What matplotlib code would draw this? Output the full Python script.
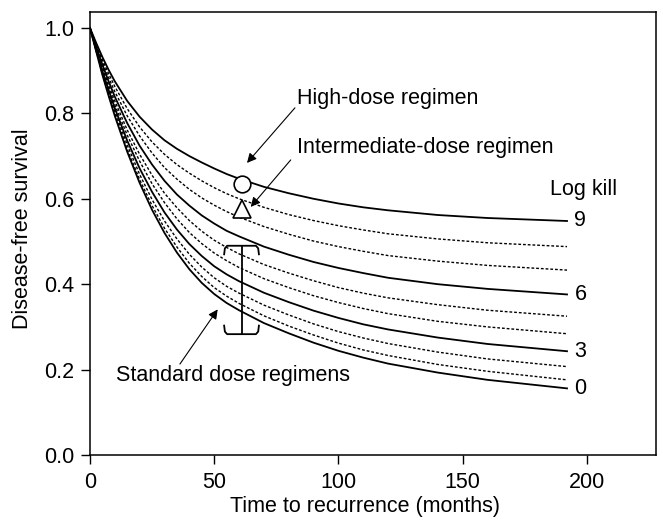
import numpy as np
import matplotlib
matplotlib.use("Agg")
import matplotlib.pyplot as plt

plt.rcParams['font.family'] = ['Liberation Sans', 'DejaVu Sans']

# months
months = [0, 2.5, 5, 7.5, 10, 15, 20, 25, 30, 35, 40, 45, 50, 55, 60,
          70, 80, 90, 100, 110, 120, 140, 160, 192]

# disease-free survival per log kill
kill_0 = [1.0, .945, .890, .841, .794, .710, .637, .574, .520, .474, .435, .403, .377, .356, .339,
          .309, .285, .263, .244, .228, .214, .193, .176, .156]
kill_1 = [1.0, .946, .892, .844, .798, .716, .645, .584, .531, .487, .449, .418, .392, .372, .355,
          .326, .302, .281, .262, .246, .233, .212, .196, .176]
kill_2 = [1.0, .948, .896, .849, .805, .726, .657, .598, .548, .506, .470, .440, .415, .395, .379,
          .351, .328, .307, .289, .274, .261, .241, .225, .207]
kill_3 = [1.0, .949, .899, .855, .812, .736, .671, .616, .568, .528, .494, .466, .442, .423, .407,
          .380, .358, .338, .321, .306, .294, .275, .260, .243]
kill_4 = [1.0, .952, .904, .861, .820, .749, .688, .635, .591, .553, .521, .495, .473, .455, .439,
          .413, .392, .373, .357, .343, .331, .313, .300, .284]
kill_5 = [1.0, .954, .908, .867, .829, .761, .704, .655, .613, .579, .549, .524, .503, .486, .471,
          .446, .426, .408, .392, .379, .368, .352, .339, .325]
kill_6 = [1.0, .956, .914, .875, .839, .777, .724, .680, .642, .610, .584, .561, .542, .525, .512,
          .488, .469, .452, .438, .426, .415, .400, .389, .376]
kill_7 = [1.0, .959, .920, .884, .851, .794, .747, .707, .673, .646, .622, .602, .585, .570, .557,
          .535, .517, .501, .488, .477, .467, .454, .444, .433]
kill_8 = [1.0, .962, .926, .893, .863, .811, .768, .733, .704, .680, .660, .642, .626, .612, .600,
          .580, .563, .549, .537, .527, .518, .506, .497, .488]
kill_9 = [1.0, .965, .932, .902, .875, .829, .792, .762, .737, .717, .700, .685, .671, .658, .647,
          .628, .613, .600, .589, .580, .573, .562, .555, .548]
curves = [kill_0, kill_1, kill_2, kill_3, kill_4, kill_5, kill_6, kill_7, kill_8, kill_9]
labelled = {0: '0', 3: '3', 6: '6', 9: '9'}

# regimen markers
high_dose = (61, 0.635)
inter_dose = (61, 0.576)
# standard dose bracket
std_t, std_lo, std_hi = 61, 0.283, 0.490

FS = 15.5

fig = plt.figure(figsize=(6.63, 5.2), dpi=100)
ax = fig.add_axes([0.1357, 0.125, 0.9894 - 0.1357, 0.977 - 0.125])

for k, vals in enumerate(curves):
    if k in labelled:
        ax.plot(months, vals, color='black', lw=1.3, solid_joinstyle='round')
        ax.text(195, vals[-1], labelled[k], fontsize=FS, va='center', ha='left')
    else:
        ax.plot(months, vals, color='black', lw=1.0, linestyle=(0, (2, 1.4)))

ax.plot(*high_dose, marker='o', ms=12, mfc='white', mec='black', mew=1.2)
ax.plot(*inter_dose, marker='^', ms=12.5, mfc='white', mec='black', mew=1.2)

# bracket (I shape with hooked ends)
hw, hk = 7.0, 0.02
ax.plot([std_t, std_t], [std_lo, std_hi], color='black', lw=1.3)
bx = np.array([-hw, -hw + 0.3, -hw + 1.2, hw - 1.2, hw - 0.3, hw]) + std_t
top_y = np.array([-hk, -hk * 0.3, 0, 0, -hk * 0.3, -hk]) + std_hi
bot_y = np.array([hk, hk * 0.3, 0, 0, hk * 0.3, hk]) + std_lo
ax.plot(bx, top_y, color='black', lw=1.3)
ax.plot(bx, bot_y, color='black', lw=1.3)

arrow = dict(arrowstyle='-|>', color='black', lw=0.8, mutation_scale=14, shrinkA=0, shrinkB=0)
ax.annotate('', xy=(63.2, 0.684), xytext=(82.5, 0.813), arrowprops=arrow)
ax.text(83.5, 0.836, 'High-dose regimen', fontsize=FS, va='center', ha='left')
ax.annotate('', xy=(64.7, 0.581), xytext=(80.8, 0.691), arrowprops=arrow)
ax.text(83.5, 0.719, 'Intermediate-dose regimen', fontsize=FS, va='center', ha='left')
ax.annotate('', xy=(51.4, 0.341), xytext=(36.2, 0.213), arrowprops=arrow)
ax.text(10.5, 0.187, 'Standard dose regimens', fontsize=FS, va='center', ha='left')
ax.text(185, 0.621, 'Log kill', fontsize=FS, va='center', ha='left')

ax.set_xlim(0, 227.8)
ax.set_ylim(0, 1.0375)
ax.set_xticks([0, 50, 100, 150, 200])
ax.set_yticks([0.0, 0.2, 0.4, 0.6, 0.8, 1.0])
ax.set_yticklabels(['0.0', '0.2', '0.4', '0.6', '0.8', '1.0'])
ax.tick_params(direction='out', length=6.5, width=1.0, labelsize=FS)
ax.tick_params(axis='x', pad=6)
ax.tick_params(axis='y', pad=5)
for s in ax.spines.values():
    s.set_linewidth(1.1)
ax.set_xlabel('Time to recurrence (months)', fontsize=FS)
ax.set_ylabel('Disease-free survival', fontsize=FS)
ax.xaxis.set_label_coords(0.486, -0.092)
ax.yaxis.set_label_coords(-0.1, 0.51)

fig.savefig('out.png', dpi=100)
